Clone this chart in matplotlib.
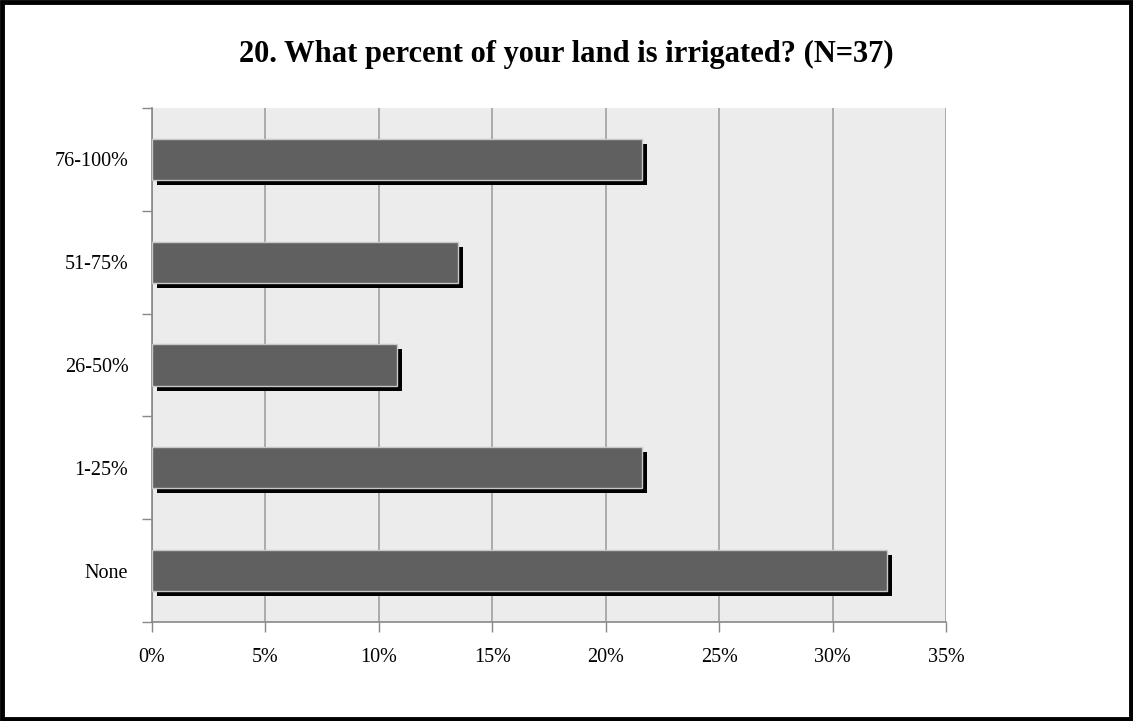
import matplotlib.pyplot as plt
import matplotlib.patheffects as pe
from matplotlib.patches import Rectangle
from matplotlib.ticker import PercentFormatter

categories = ['None', '1-25%', '26-50%', '51-75%', '76-100%']
percents = [32.4, 21.6, 10.8, 13.5, 21.6]
x_ticks = [0, 5, 10, 15, 20, 25, 30, 35]

plt.rcParams['font.family'] = ['Liberation Serif', 'DejaVu Serif']

fig = plt.figure(figsize=(11.33, 7.21), dpi=100)
ax = fig.add_axes([0.1342, 0.1373, 0.7008, 0.7129])
ax.set_facecolor('#ececec')

pos = list(range(len(categories)))
bars = ax.barh(pos, percents, height=0.4, color='#606060',
               edgecolor='#c8c8c8', linewidth=1.0, zorder=3)
for b in bars:
    b.set_path_effects([
        pe.SimplePatchShadow(offset=(3.6, -3.6), shadow_rgbFace='black', alpha=1.0),
        pe.Normal(),
    ])

ax.set_xlim(0, 35)
ax.set_ylim(-0.5, len(categories) - 0.5)
ax.set_xticks(x_ticks)
ax.xaxis.set_major_formatter(PercentFormatter(decimals=0))
ax.grid(axis='x', color='#a0a0a0', linewidth=1.2, zorder=0)
ax.set_axisbelow(True)

# category labels sit between the boundary ticks
ax.set_yticks([p - 0.5 for p in pos] + [pos[-1] + 0.5])
ax.set_yticklabels([])
ax.set_yticks(pos, minor=True)
ax.set_yticklabels(categories, minor=True)
ax.tick_params(axis='y', which='minor', length=0, pad=17, labelsize=14.5)
ax.tick_params(axis='y', which='major', length=7, color='#888888', width=1)
ax.tick_params(axis='x', length=7, color='#888888', width=1, pad=12, labelsize=14.5)

for side in ['top', 'right']:
    ax.spines[side].set_visible(False)
for side in ['left', 'bottom']:
    ax.spines[side].set_color('#888888')
    ax.spines[side].set_linewidth(1.2)

fig.text(0.5, 0.924, '20. What percent of your land is irrigated? (N=37)',
         ha='center', va='center', fontsize=22, fontweight='bold')

fig.patches.append(Rectangle((0.002, 0.003), 0.996, 0.994, transform=fig.transFigure,
                             fill=False, edgecolor='black', linewidth=3.5))

fig.savefig('out.png', dpi=100)
